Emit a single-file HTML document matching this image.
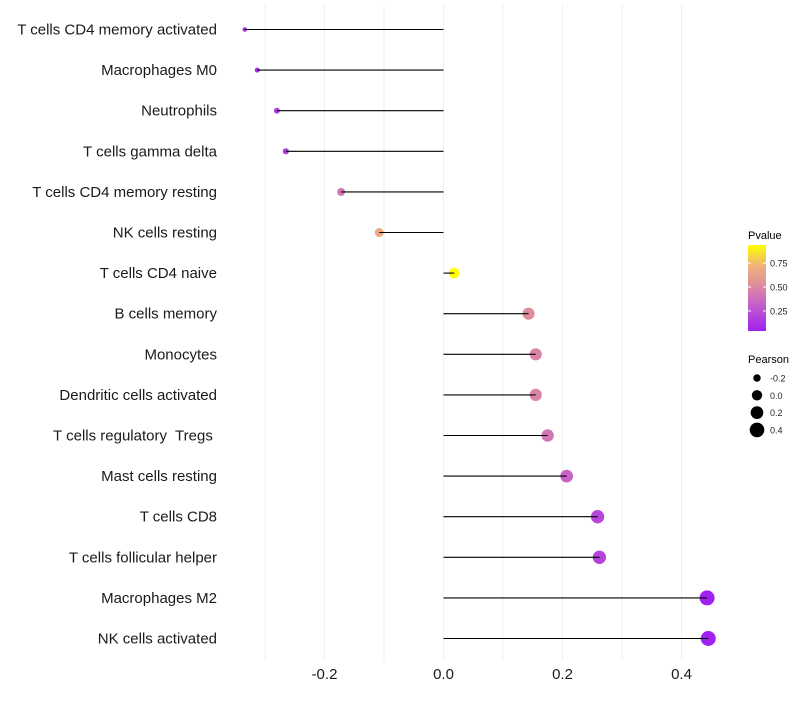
<!DOCTYPE html>
<html><head><meta charset="utf-8"><style>
body{margin:0;background:#fff;font-family:"Liberation Sans",sans-serif}
svg text{font-family:"Liberation Sans",sans-serif;white-space:pre}
</style></head><body>
<svg id="chart" width="800" height="700" xmlns="http://www.w3.org/2000/svg">
<g id="grid"></g>
<g id="marks"></g>
<g id="ylabels"></g>
<g id="xlabels"></g>
<g id="legend"></g>
</svg>
<script>
const categories=["T cells CD4 memory activated","Macrophages M0","Neutrophils","T cells gamma delta","T cells CD4 memory resting","NK cells resting","T cells CD4 naive","B cells memory","Monocytes","Dendritic cells activated","T cells regulatory  Tregs ","Mast cells resting","T cells CD8","T cells follicular helper","Macrophages M2","NK cells activated"];
const pearson=[-0.334,-0.313,-0.280,-0.265,-0.172,-0.108,0.018,0.143,0.155,0.155,0.175,0.207,0.259,0.262,0.443,0.445];
const pvalues=[0.08,0.10,0.14,0.16,0.42,0.68,0.94,0.52,0.48,0.48,0.42,0.33,0.20,0.19,0.04,0.04];
const xTicks=[-0.2,0.0,0.2,0.4];
const xGrid=[-0.3,-0.2,-0.1,0,0.1,0.2,0.3,0.4];
const pTicks=[0.25,0.50,0.75];
const sizeTicks=[-0.2,0.0,0.2,0.4];

const NS="http://www.w3.org/2000/svg";
const X=v=>443.5+v*595;
const Y=i=>29.5+i*40.6;
const R=v=>Math.sqrt(Math.max(4,27+66*v));
const pMin=0.04,pMax=0.94;
const stops=[[0,[160,32,240]],[0.33,[200,100,200]],[0.55,[224,144,154]],[0.75,[238,176,124]],[1,[255,255,0]]];
function col(p){const t=Math.max(0,Math.min(1,(p-pMin)/(pMax-pMin)));
 for(let k=1;k<stops.length;k++){if(t<=stops[k][0]){const a=stops[k-1],b=stops[k];const u=(t-a[0])/(b[0]-a[0]);
 const c=a[1].map((x,i)=>Math.round(x+(b[1][i]-x)*u));return `rgb(${c.join(',')})`;}}
 return 'rgb(255,255,0)';}
function el(tag,attrs,parent,text){const e=document.createElementNS(NS,tag);for(const k in attrs)e.setAttribute(k,attrs[k]);if(text!==undefined)e.textContent=text;parent.appendChild(e);return e;}
const grid=document.getElementById('grid'),marks=document.getElementById('marks'),yl=document.getElementById('ylabels'),xl=document.getElementById('xlabels'),lg=document.getElementById('legend');
xGrid.forEach(v=>{const l=el('line',{x1:X(v),x2:X(v),y1:5,y2:660,stroke:'#efefef','stroke-width':1},grid);

});
categories.forEach((c,i)=>{
 const y=Y(i);
 const p=el('circle',{cx:X(pearson[i]),cy:y,r:R(pearson[i]),fill:col(pvalues[i])},marks);
 
 
 const s=el('line',{x1:X(0),x2:X(pearson[i]),y1:y,y2:y,stroke:'#000','stroke-width':1.1},marks);
 
 
 const t=el('text',{x:217,y:y+5,'text-anchor':'end','font-size':15,fill:'#1a1a1a'},yl,c);
 
 
});
xTicks.forEach(v=>{const t=el('text',{x:X(v),y:679,'text-anchor':'middle','font-size':15,fill:'#1a1a1a'},xl,v.toFixed(1));
 
 });
el('text',{x:748,y:239,'font-size':11,fill:'#000'},lg,'Pvalue');
const defs=el('defs',{},lg);const gr=el('linearGradient',{id:'pg',x1:0,y1:1,x2:0,y2:0},defs);
stops.forEach(s=>el('stop',{offset:s[0],'stop-color':`rgb(${s[1].join(',')})`},gr));
el('rect',{x:748,y:245,width:18,height:86,fill:'url(#pg)'},lg);
const PY=p=>331-(p-pMin)/(pMax-pMin)*86;
pTicks.forEach(p=>{el('line',{x1:748,x2:751,y1:PY(p),y2:PY(p),stroke:'#fff'},lg);el('line',{x1:763,x2:766,y1:PY(p),y2:PY(p),stroke:'#fff'},lg);
 const t=el('text',{x:770,y:PY(p)+3.5,'font-size':9,fill:'#222'},lg,p.toFixed(2));
 
 });
el('text',{x:748,y:363,'font-size':11,fill:'#000'},lg,'Pearson');
sizeTicks.forEach((v,i)=>{const y=378+i*17.3;
 const c=el('circle',{cx:757,cy:y,r:R(v),fill:'#000'},lg);
 
 
 el('text',{x:770,y:y+3.5,'font-size':9,fill:'#222'},lg,v.toFixed(1));});
</script>
</body></html>
